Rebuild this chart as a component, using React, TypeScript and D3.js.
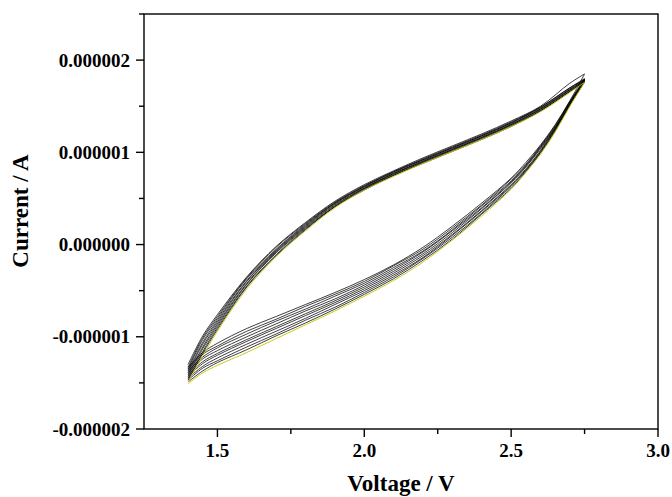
import React from "react";
import * as d3 from "d3";

// Voltage grids (V) for the forward (anodic) and reverse (cathodic) branches
const FWD_V = [1.40, 1.45, 1.50, 1.60, 1.70, 1.80, 1.90, 2.00, 2.10, 2.20, 2.30, 2.40, 2.50, 2.60, 2.70, 2.75];
const REV_V = [2.75, 2.70, 2.65, 2.60, 2.55, 2.50, 2.40, 2.30, 2.20, 2.10, 2.00, 1.90, 1.80, 1.70, 1.60, 1.50, 1.45, 1.40];

// Current (µA): each row = one voltage of the grid, columns = cycles 1..10
const FWD_I = [
  [-1.30, -1.33, -1.35, -1.37, -1.39, -1.41, -1.43, -1.45, -1.47, -1.49],
  [-0.99, -1.01, -1.03, -1.06, -1.08, -1.11, -1.13, -1.16, -1.18, -1.21],
  [-0.76, -0.78, -0.80, -0.82, -0.84, -0.86, -0.88, -0.90, -0.92, -0.94],
  [-0.35, -0.36, -0.37, -0.39, -0.40, -0.42, -0.43, -0.45, -0.46, -0.48],
  [-0.02, -0.03, -0.05, -0.06, -0.07, -0.08, -0.09, -0.11, -0.12, -0.13],
  [0.24, 0.23, 0.22, 0.21, 0.20, 0.19, 0.18, 0.17, 0.16, 0.15],
  [0.47, 0.46, 0.45, 0.45, 0.44, 0.43, 0.42, 0.41, 0.41, 0.40],
  [0.65, 0.64, 0.63, 0.63, 0.62, 0.61, 0.61, 0.60, 0.59, 0.59],
  [0.80, 0.79, 0.79, 0.78, 0.77, 0.77, 0.76, 0.75, 0.75, 0.74],
  [0.94, 0.93, 0.92, 0.92, 0.91, 0.90, 0.90, 0.89, 0.88, 0.88],
  [1.07, 1.06, 1.05, 1.05, 1.04, 1.03, 1.03, 1.02, 1.01, 1.01],
  [1.20, 1.19, 1.18, 1.18, 1.17, 1.16, 1.16, 1.15, 1.14, 1.14],
  [1.34, 1.33, 1.32, 1.32, 1.31, 1.30, 1.30, 1.29, 1.28, 1.28],
  [1.50, 1.49, 1.49, 1.48, 1.47, 1.47, 1.46, 1.45, 1.45, 1.44],
  [1.75, 1.70, 1.70, 1.69, 1.68, 1.68, 1.67, 1.66, 1.66, 1.65],
  [1.85, 1.80, 1.79, 1.79, 1.78, 1.78, 1.77, 1.77, 1.76, 1.76],
];

const REV_I = [
  [1.85, 1.80, 1.79, 1.79, 1.78, 1.78, 1.77, 1.77, 1.76, 1.76],
  [1.56, 1.55, 1.55, 1.54, 1.53, 1.53, 1.52, 1.51, 1.51, 1.50],
  [1.30, 1.29, 1.28, 1.27, 1.26, 1.26, 1.25, 1.24, 1.23, 1.22],
  [1.08, 1.07, 1.06, 1.05, 1.04, 1.02, 1.01, 1.00, 0.99, 0.98],
  [0.89, 0.87, 0.86, 0.85, 0.84, 0.82, 0.81, 0.80, 0.79, 0.78],
  [0.72, 0.71, 0.69, 0.68, 0.67, 0.65, 0.64, 0.63, 0.61, 0.60],
  [0.45, 0.43, 0.42, 0.40, 0.39, 0.37, 0.36, 0.34, 0.33, 0.31],
  [0.20, 0.18, 0.16, 0.15, 0.13, 0.11, 0.10, 0.08, 0.06, 0.05],
  [-0.03, -0.05, -0.07, -0.08, -0.10, -0.12, -0.14, -0.15, -0.17, -0.19],
  [-0.22, -0.23, -0.25, -0.27, -0.29, -0.31, -0.33, -0.35, -0.37, -0.39],
  [-0.38, -0.40, -0.42, -0.44, -0.46, -0.48, -0.50, -0.52, -0.54, -0.56],
  [-0.52, -0.54, -0.56, -0.59, -0.61, -0.63, -0.65, -0.68, -0.70, -0.72],
  [-0.65, -0.67, -0.70, -0.72, -0.75, -0.77, -0.80, -0.82, -0.85, -0.87],
  [-0.78, -0.81, -0.83, -0.86, -0.89, -0.91, -0.94, -0.97, -0.99, -1.02],
  [-0.91, -0.94, -0.97, -1.00, -1.03, -1.05, -1.08, -1.11, -1.14, -1.17],
  [-1.07, -1.10, -1.12, -1.15, -1.18, -1.20, -1.23, -1.26, -1.28, -1.31],
  [-1.17, -1.19, -1.22, -1.24, -1.27, -1.29, -1.32, -1.34, -1.37, -1.39],
  [-1.33, -1.35, -1.37, -1.39, -1.41, -1.43, -1.45, -1.47, -1.49, -1.51],
];

const CYCLE_COLORS = ["#000", "#000", "#000", "#000", "#000", "#000", "#000", "#000", "#000", "#c8c400"];

const X_MAJOR = [1.5, 2.0, 2.5, 3.0];
const X_MINOR = [1.75, 2.25, 2.75];
const Y_MAJOR = [-2, -1, 0, 1, 2];
const Y_MINOR = [-1.5, -0.5, 0.5, 1.5, 2.5];
const Y_TICK_LABELS = ["-0.000002", "-0.000001", "0.000000", "0.000001", "0.000002"];

const W = 672;
const H = 497;
const M = { left: 144, right: 658, top: 14, bottom: 429 };
const FONT = "'Liberation Serif', 'Times New Roman', serif";

export default function App() {
  const x = d3.scaleLinear().domain([1.25, 3.0]).range([M.left, M.right]);
  const y = d3.scaleLinear().domain([-2, 2.5]).range([M.bottom, M.top]);

  const line = d3
    .line<[number, number]>()
    .x((d) => x(d[0]))
    .y((d) => y(d[1]))
    .curve(d3.curveCatmullRom.alpha(0.5));

  const nCycles = FWD_I[0].length;
  const cycles = d3.range(nCycles).map((c) => ({
    fwd: line(FWD_V.map((v, i) => [v, FWD_I[i][c]] as [number, number])) || "",
    rev: line(REV_V.map((v, i) => [v, REV_I[i][c]] as [number, number])) || "",
    color: CYCLE_COLORS[c],
  }));

  return (
    <svg
      width={W}
      height={H}
      style={{ position: "absolute", left: 0, top: 0, background: "#fff" }}
      fontFamily={FONT}
      fontWeight="bold"
    >
      <rect x={0} y={0} width={W} height={H} fill="#fff" />
      <g fill="none">
        {cycles.map((c, i) => (
          <g key={i} stroke={c.color} strokeWidth={i === nCycles - 1 ? 0.9 : 0.75}>
            <path d={c.fwd} />
            <path d={c.rev} />
          </g>
        ))}
      </g>
      {/* frame */}
      <rect
        x={M.left}
        y={M.top}
        width={M.right - M.left}
        height={M.bottom - M.top}
        fill="none"
        stroke="#000"
        strokeWidth={1.4}
      />
      {/* x ticks */}
      {X_MAJOR.map((v) => (
        <g key={"xM" + v}>
          <line x1={x(v)} x2={x(v)} y1={M.bottom} y2={M.bottom + 8} stroke="#000" strokeWidth={1.4} />
          <text x={x(v)} y={457} textAnchor="middle" fontSize={19}>
            {v.toFixed(1)}
          </text>
        </g>
      ))}
      {X_MINOR.map((v) => (
        <line key={"xm" + v} x1={x(v)} x2={x(v)} y1={M.bottom} y2={M.bottom + 5} stroke="#000" strokeWidth={1.4} />
      ))}
      {/* y ticks */}
      {Y_MAJOR.map((v, i) => (
        <g key={"yM" + v}>
          <line x1={M.left - 8} x2={M.left} y1={y(v)} y2={y(v)} stroke="#000" strokeWidth={1.4} />
          <text x={130} y={y(v)} dy="0.35em" textAnchor="end" fontSize={19}>
            {Y_TICK_LABELS[i]}
          </text>
        </g>
      ))}
      {Y_MINOR.map((v) => (
        <line key={"ym" + v} x1={M.left - 5} x2={M.left} y1={y(v)} y2={y(v)} stroke="#000" strokeWidth={1.4} />
      ))}
      {/* axis titles */}
      <text x={(M.left + M.right) / 2} y={491} textAnchor="middle" fontSize={23}>
        Voltage / V
      </text>
      <text transform={`translate(28, 211) rotate(-90)`} textAnchor="middle" fontSize={23}>
        Current / A
      </text>
    </svg>
  );
}
